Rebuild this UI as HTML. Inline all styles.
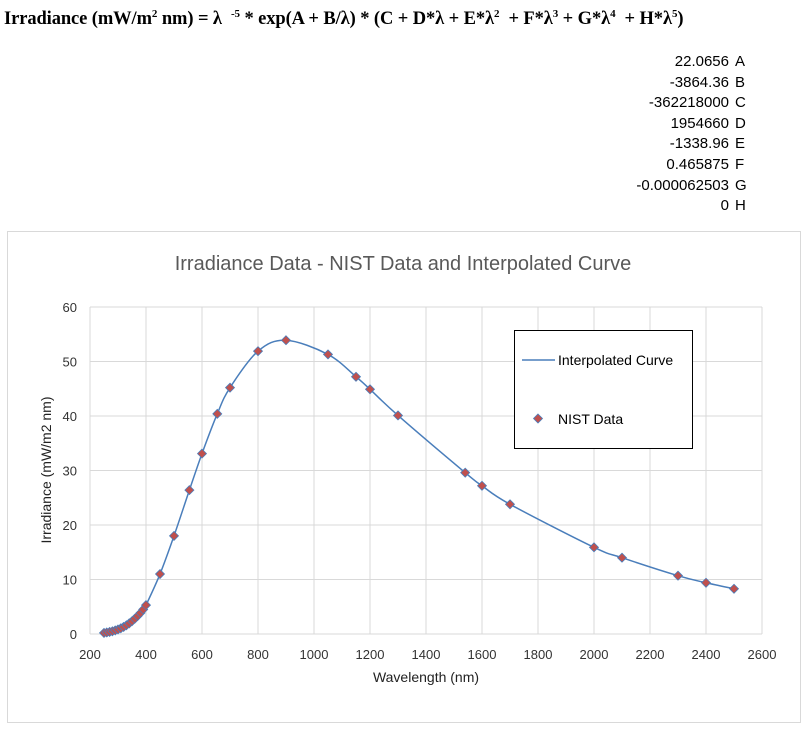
<!DOCTYPE html>
<html><head><meta charset="utf-8"><style>
body{margin:0;width:807px;height:732px;background:#fff;overflow:hidden;position:relative;font-family:"Liberation Sans",Arial,sans-serif}
#formula{position:absolute;left:4px;top:8px;font-family:"Liberation Serif",serif;font-weight:bold;font-size:18.5px;white-space:nowrap;letter-spacing:-0.1px}
#formula sup{font-size:11px}
.row{position:absolute;font-size:15px;height:20px;line-height:20px}
.num{position:absolute;right:78px;text-align:right}
.lab{position:absolute;left:735px}
</style></head><body>
<div id="formula">Irradiance (mW/m<sup>2</sup> nm) = λ &nbsp;<sup>-5</sup> * exp(A + B/λ) * (C + D*λ + E*λ<sup>2</sup> &nbsp;+ F*λ<sup>3</sup> + G*λ<sup>4</sup> &nbsp;+ H*λ<sup>5</sup>)</div>
<div id="coefs"></div>
<svg id="chart" width="807" height="732" style="position:absolute;left:0;top:0"></svg>
<script>
const coefVals=["22.0656","-3864.36","-362218000","1954660","-1338.96","0.465875","-0.000062503","0"];
const coefNames=["A","B","C","D","E","F","G","H"];
const wl=[250,260,270,280,290,300,310,320,330,340,350,360,370,380,390,400,450,500,555,600,654.6,700,800,900,1050,1150,1200,1300,1540,1600,1700,2000,2100,2300,2400,2500];
const irr=[0.2,0.28,0.38,0.5,0.65,0.83,1.05,1.3,1.6,1.95,2.35,2.8,3.3,3.85,4.5,5.3,11.0,18.0,26.4,33.1,40.4,45.2,51.9,53.9,51.3,47.2,44.9,40.1,29.6,27.2,23.8,15.9,14.0,10.7,9.4,8.3];
const xTicks=[200,400,600,800,1000,1200,1400,1600,1800,2000,2200,2400,2600];
const yTicks=[0,10,20,30,40,50,60];

const ct=document.getElementById('coefs');
coefVals.forEach((v,i)=>{
  const r=document.createElement('div');r.className='row';r.style.top=(52+i*20.6)+'px';r.style.left='0';r.style.width='807px';
  
  
  r.innerHTML='<span class="num">'+v+'</span><span class="lab">'+coefNames[i]+'</span>';
  ct.appendChild(r);
});

const NS='http://www.w3.org/2000/svg';const svg=document.getElementById('chart');
function el(t,a,p){const e=document.createElementNS(NS,t);for(const k in a)e.setAttribute(k,a[k]);(p||svg).appendChild(e);return e;}
const X=v=>90+(v-200)*(672/2400);
const Y=v=>634-v*(327/60);
const frame=el('rect',{x:7.5,y:231.5,width:793,height:491,fill:'#fff',stroke:'#d9d9d9'});


const t=el('text',{x:403,y:270,'text-anchor':'middle','font-size':'20',fill:'#595959','font-family':'Liberation Sans, sans-serif'});t.textContent='Irradiance Data - NIST Data and Interpolated Curve';


xTicks.forEach(v=>{
  const g=el('line',{x1:X(v),x2:X(v),y1:Y(60),y2:Y(0),stroke:'#d9d9d9'});
  
  
  const l=el('text',{x:X(v),y:659,'text-anchor':'middle','font-size':'13',fill:'#333'});l.textContent=v;
  
  
});
yTicks.forEach(v=>{
  const g=el('line',{x1:X(200),x2:X(2600),y1:Y(v),y2:Y(v),stroke:'#d9d9d9'});
  
  
  const l=el('text',{x:77,y:Y(v)+5,'text-anchor':'end','font-size':'13',fill:'#333'});l.textContent=v;
  
  
});
const xt=el('text',{x:426,y:682,'text-anchor':'middle','font-size':'14',fill:'#222'});xt.textContent='Wavelength (nm)';


const yt=el('text',{x:0,y:0,'text-anchor':'middle','font-size':'14',fill:'#222',transform:'translate(51,470) rotate(-90)'});yt.textContent='Irradiance (mW/m2 nm)';


const pts=wl.map((w,i)=>[X(w),Y(irr[i])]);
let d='M'+pts[0][0]+','+pts[0][1];
for(let i=0;i<pts.length-1;i++){
  const p0=pts[Math.max(0,i-1)],p1=pts[i],p2=pts[i+1],p3=pts[Math.min(pts.length-1,i+2)];
  const c1=[p1[0]+(p2[0]-p0[0])/6,p1[1]+(p2[1]-p0[1])/6],c2=[p2[0]-(p3[0]-p1[0])/6,p2[1]-(p3[1]-p1[1])/6];
  d+=' C'+c1+' '+c2+' '+p2;
}
const cv=el('path',{d:d,fill:'none',stroke:'#4a7ebb','stroke-width':1.5});


pts.forEach(p=>{
  const m=el('path',{d:`M${p[0]},${p[1]-4.5}L${p[0]+4.5},${p[1]}L${p[0]},${p[1]+4.5}L${p[0]-4.5},${p[1]}Z`,fill:'#c0504d',stroke:'#4a7ebb','stroke-width':0.8});
  
  
});
const lg=el('g',{});


el('rect',{x:514.5,y:330.5,width:178,height:118,fill:'#fff',stroke:'#000','stroke-width':1},lg);
const l1=el('line',{x1:522,x2:555,y1:360,y2:360,stroke:'#4a7ebb','stroke-width':1.5},lg);


const lt1=el('text',{x:558,y:365,'font-size':'14',fill:'#000'},lg);lt1.textContent='Interpolated Curve';


const lm=el('path',{d:'M538,414L542.5,418.5L538,423L533.5,418.5Z',fill:'#c0504d',stroke:'#4a7ebb','stroke-width':0.8},lg);


const lt2=el('text',{x:558,y:424,'font-size':'14',fill:'#000'},lg);lt2.textContent='NIST Data';


</script>
</body></html>
